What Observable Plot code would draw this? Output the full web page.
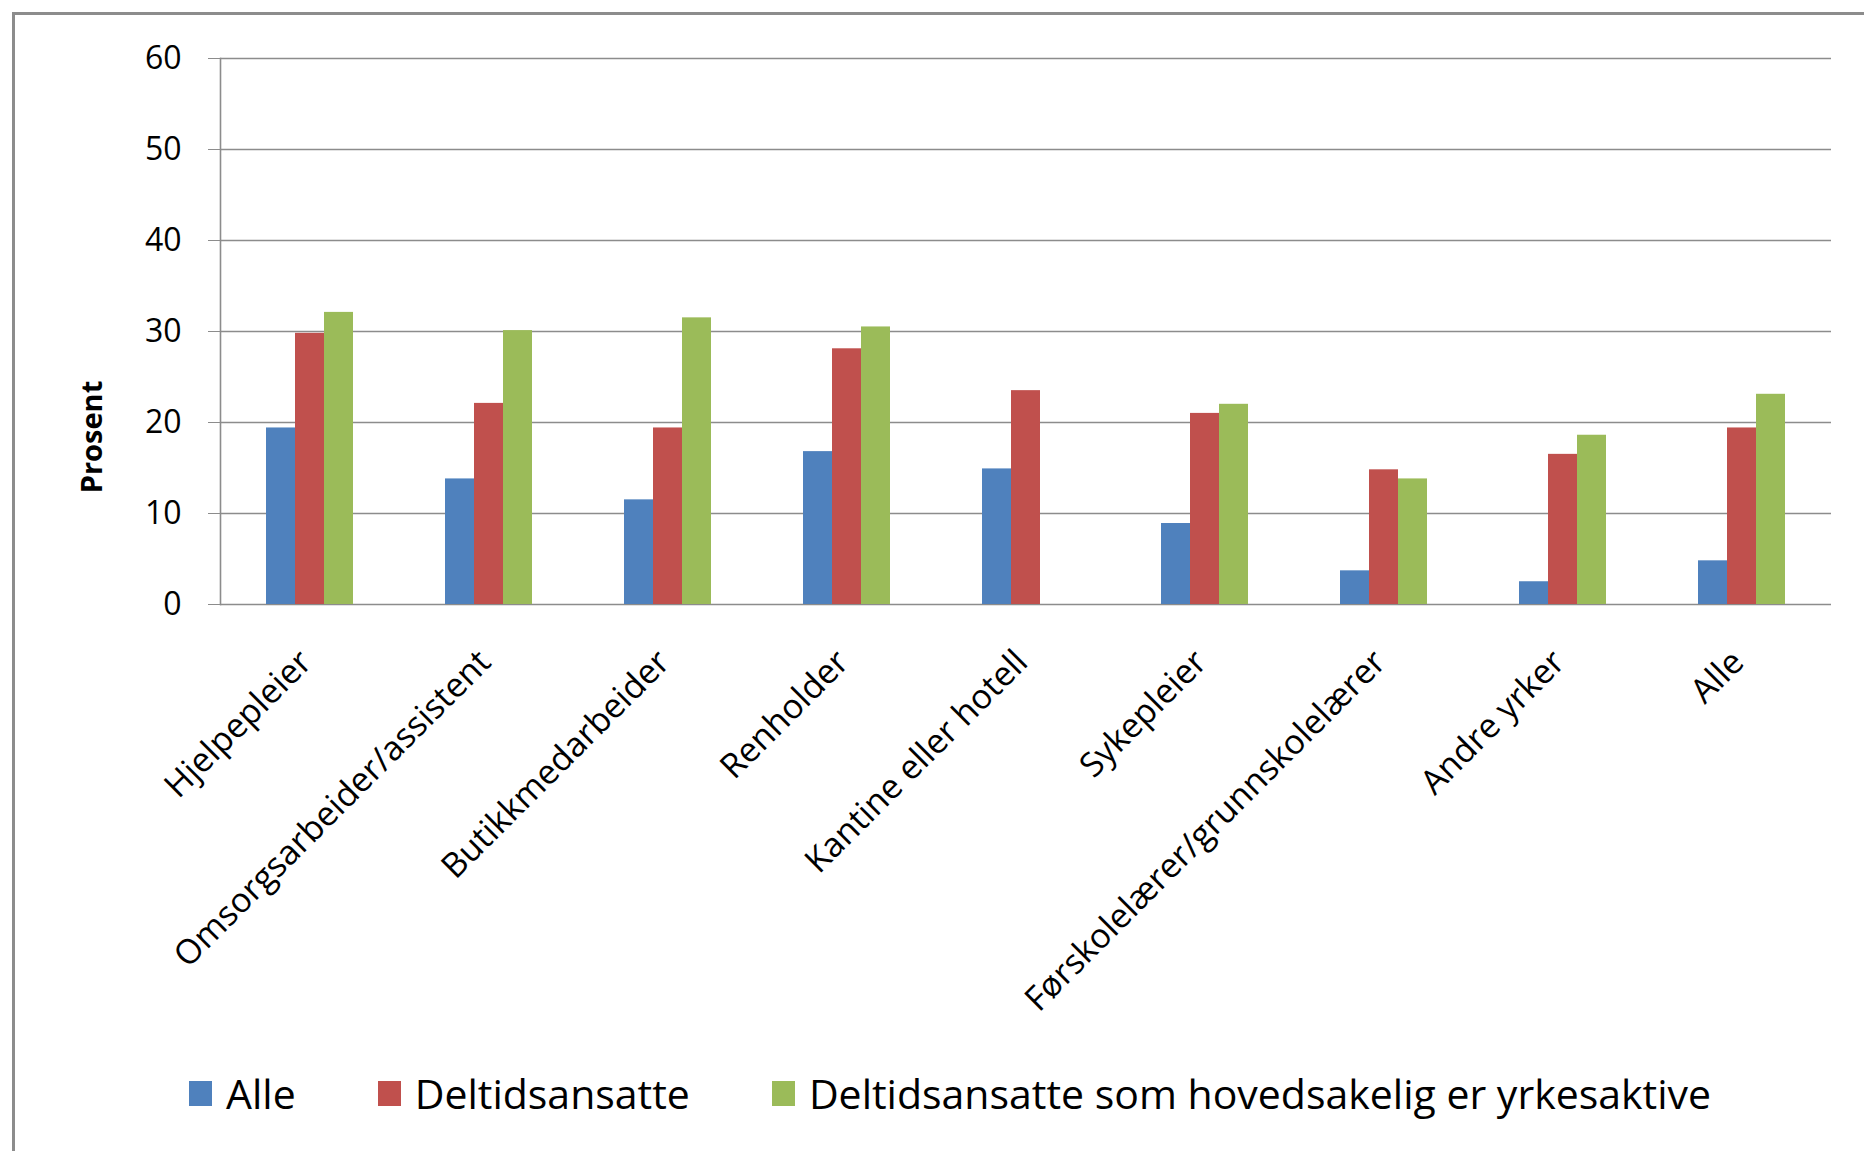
<!DOCTYPE html>
<html>
<head>
<meta charset="utf-8">
<script src="https://cdn.jsdelivr.net/npm/d3@7"></script>
<script src="https://cdn.jsdelivr.net/npm/@observablehq/plot@0.6"></script>
<style>
  html, body { margin: 0; padding: 0; background: #fff; }
  body { width: 1864px; height: 1151px; position: relative; overflow: hidden; font-family: "Open Sans", sans-serif; }
  #border { position: absolute; left: 12px; top: 12px; width: 1900px; height: 1200px; border-left: 3px solid #8c8c8c; border-top: 3px solid #8c8c8c; box-sizing: border-box; }
  #chart { position: absolute; left: 0; top: 0; }
  #ylabel { position: absolute; left: 90px; top: 437px; transform: translate(-50%, -50%) rotate(-90deg); font-weight: bold; font-size: 29px; white-space: nowrap; color: #000; }
  #legend { position: absolute; left: 189px; top: 1065px; display: flex; align-items: center; font-size: 41px; color: #000; }
  .item { display: flex; align-items: center; margin-right: 82px; }
  .sw { width: 23px; height: 25px; margin-right: 14px; }
</style>
</head>
<body>
<div id="border"></div>
<div id="chart"></div>
<div id="ylabel">Prosent</div>
<div id="legend"></div>
<script>
const categories = ["Hjelpepleier", "Omsorgsarbeider/assistent", "Butikkmedarbeider", "Renholder", "Kantine eller hotell", "Sykepleier", "Førskolelærer/grunnskolelærer", "Andre yrker", "Alle"];
const series = ["Alle", "Deltidsansatte", "Deltidsansatte som hovedsakelig er yrkesaktive"];
const alle = [19.4, 13.8, 11.5, 16.8, 14.9, 8.9, 3.7, 2.5, 4.8];
const deltid = [29.8, 22.1, 19.4, 28.1, 23.5, 21.0, 14.8, 16.5, 19.4];
const deltidYrkesaktive = [32.1, 30.1, 31.5, 30.5, null, 22.0, 13.8, 18.6, 23.1];
const colors = ["#4F81BD", "#C0504D", "#9BBB59"];
const yTicks = [0, 10, 20, 30, 40, 50, 60];

const seriesValues = [alle, deltid, deltidYrkesaktive];
const rows = [];
categories.forEach((c, i) => {
  series.forEach((s, j) => {
    const v = seriesValues[j][i];
    if (v != null) rows.push({category: c, series: s, value: v});
  });
});

const plot = Plot.plot({
  width: 1864,
  height: 1040,
  marginLeft: 219,
  marginRight: 33,
  marginTop: 58,
  marginBottom: 436,
  style: {fontFamily: "Open Sans", fontSize: "32px", color: "#000", background: "transparent", overflow: "visible"},
  fx: {domain: categories, paddingInner: 0, paddingOuter: 0, label: null},
  x: {domain: series, paddingInner: 0, paddingOuter: 1.5, axis: null},
  y: {domain: [0, 60], label: null},
  color: {domain: series, range: colors},
  marks: [
    Plot.ruleY(yTicks, {stroke: "#8c8c8c", strokeWidth: 1.6}),
    Plot.barY(rows, {fx: "category", x: "series", y: "value", fill: "series"}),
    Plot.frame({anchor: "left", facetAnchor: "left", stroke: "#8c8c8c", strokeWidth: 1.6}),
    Plot.axisY({ticks: yTicks, tickSize: 12, tickPadding: 27, stroke: "#8c8c8c", fill: "#000", label: null, fontSize: 32}),
    Plot.axisFx({anchor: "bottom", tickRotate: -45, tickSize: 0, tickPadding: 52, dx: -4, label: null, fontSize: 34, fill: "#000"})
  ]
});
document.getElementById("chart").appendChild(plot);

const legend = document.getElementById("legend");
series.forEach((s, j) => {
  const item = document.createElement("div");
  item.className = "item";
  const sw = document.createElement("div");
  sw.className = "sw";
  sw.style.background = colors[j];
  const t = document.createElement("span");
  t.textContent = s;
  item.appendChild(sw);
  item.appendChild(t);
  legend.appendChild(item);
});
</script>
</body>
</html>
